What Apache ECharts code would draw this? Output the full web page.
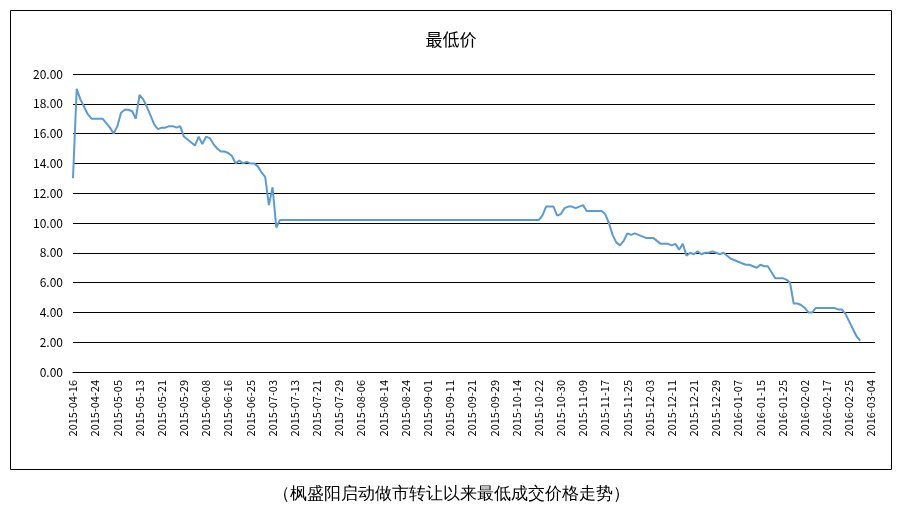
<!DOCTYPE html>
<html>
<head>
<meta charset="utf-8">
<script src="https://cdn.jsdelivr.net/npm/echarts@6/dist/echarts.min.js"></script>
<style>html,body{margin:0;padding:0;background:#fff}#main{width:902px;height:524px}</style>
</head>
<body>
<div id="main"></div>
<script>
const TITLE = '最低价';
const CAPTION = '（枫盛阳启动做市转让以来最低成交价格走势）';
const START_DATE = '2015-04-16';
const END_DATE = '2016-03-07';
const HOLIDAYS = ['2015-05-01', '2015-06-22', '2015-09-03', '2015-09-04',
  '2015-10-01', '2015-10-02', '2015-10-05', '2015-10-06', '2015-10-07',
  '2016-01-01', '2016-02-08', '2016-02-09', '2016-02-10', '2016-02-11', '2016-02-12'];

const lowPrice = [
  13.0, 19.0, 18.3, 17.8, 17.3, 17.0, 17.0,
  17.0, 17.0, 16.7, 16.4, 16.0, 16.5,
  17.4, 17.6, 17.6, 17.5, 17.0, 18.6,
  18.3, 17.8, 17.2, 16.6, 16.3, 16.4,
  16.4, 16.5, 16.5, 16.4, 16.5, 15.8,
  15.6, 15.4, 15.2, 15.8, 15.3, 15.8,
  15.7, 15.3, 15.0, 14.8, 14.8, 14.7,
  14.5, 14.0, 14.2, 14.0, 14.1, 14.0,
  14.0, 13.8, 13.4, 13.1, 11.2, 12.4,
  9.7, 10.2, 10.2, 10.2, 10.2, 10.2,
  10.2, 10.2, 10.2, 10.2, 10.2, 10.2,
  10.2, 10.2, 10.2, 10.2, 10.2, 10.2,
  10.2, 10.2, 10.2, 10.2, 10.2, 10.2,
  10.2, 10.2, 10.2, 10.2, 10.2, 10.2,
  10.2, 10.2, 10.2, 10.2, 10.2, 10.2,
  10.2, 10.2, 10.2, 10.2, 10.2, 10.2,
  10.2, 10.2, 10.2, 10.2, 10.2, 10.2,
  10.2, 10.2, 10.2, 10.2, 10.2, 10.2,
  10.2, 10.2, 10.2, 10.2, 10.2, 10.2,
  10.2, 10.2, 10.2, 10.2, 10.2, 10.2,
  10.2, 10.2, 10.2, 10.2, 10.2, 10.2,
  10.5, 11.1, 11.1, 11.1, 10.5, 10.6,
  11.0, 11.1, 11.1, 11.0, 11.1, 11.2,
  10.8, 10.8, 10.8, 10.8, 10.8, 10.6,
  10.0, 9.2, 8.7, 8.5, 8.8, 9.3,
  9.2, 9.3, 9.2, 9.1, 9.0, 9.0,
  9.0, 8.8, 8.6, 8.6, 8.6, 8.5,
  8.6, 8.2, 8.6, 7.8, 8.0, 7.9,
  8.1, 7.9, 8.0, 8.0, 8.1, 8.0,
  7.9, 8.0, 7.8, 7.6, 7.5, 7.4,
  7.3, 7.2, 7.2, 7.1, 7.0, 7.2,
  7.1, 7.1, 6.7, 6.3, 6.3, 6.3,
  6.2, 6.0, 4.6, 4.6, 4.5, 4.3,
  4.0, 4.0, 4.3, 4.3, 4.3, 4.3,
  4.3, 4.3, 4.2, 4.2, 3.9, 3.4, 2.9, 2.4, 2.1
];

// trading days: weekdays minus holidays
function tradingDays(from, to) {
  const out = [];
  const d = new Date(from + 'T00:00:00Z');
  const end = new Date(to + 'T00:00:00Z');
  while (d <= end) {
    const s = d.toISOString().slice(0, 10);
    const wd = d.getUTCDay();
    if (wd !== 0 && wd !== 6 && HOLIDAYS.indexOf(s) < 0) out.push(s);
    d.setUTCDate(d.getUTCDate() + 1);
  }
  return out;
}
const dates = tradingDays(START_DATE, END_DATE);

const chart = echarts.init(document.getElementById('main'));
const font = 'SimSun, "Noto Sans CJK SC", sans-serif';
chart.setOption({
  backgroundColor: '#fff',
  animation: false,
  title: {
    text: TITLE, left: 'center', top: 26,
    textStyle: { fontSize: 17, fontWeight: 'normal', color: '#000', fontFamily: font }
  },
  grid: { left: 73, right: 27, top: 74, bottom: 152 },
  xAxis: {
    type: 'category',
    data: dates,
    boundaryGap: false,
    axisLine: { lineStyle: { color: '#000', width: 1 } },
    axisTick: { show: false },
    axisLabel: { rotate: 90, interval: 5, fontSize: 11, color: '#000', fontFamily: font, margin: 8 }
  },
  yAxis: {
    type: 'value', min: 0, max: 20, interval: 2,
    axisLine: { show: false },
    axisTick: { show: false },
    axisLabel: { fontSize: 12, color: '#000', fontFamily: font, margin: 10,
      formatter: v => v.toFixed(2) },
    splitLine: { lineStyle: { color: '#000', width: 1 } }
  },
  series: [{
    type: 'line',
    data: lowPrice,
    showSymbol: false,
    lineStyle: { color: '#5b9bd5', width: 2 },
    itemStyle: { color: '#5b9bd5' }
  }],
  graphic: [
    { type: 'rect', shape: { x: 10.5, y: 10.5, width: 881, height: 459 },
      style: { fill: null, stroke: '#000', lineWidth: 1 } },
    { type: 'text', left: 'center', top: 486,
      style: { text: CAPTION, fontSize: 17, fill: '#000', font: '17px ' + font } }
  ]
});
</script>
</body>
</html>
